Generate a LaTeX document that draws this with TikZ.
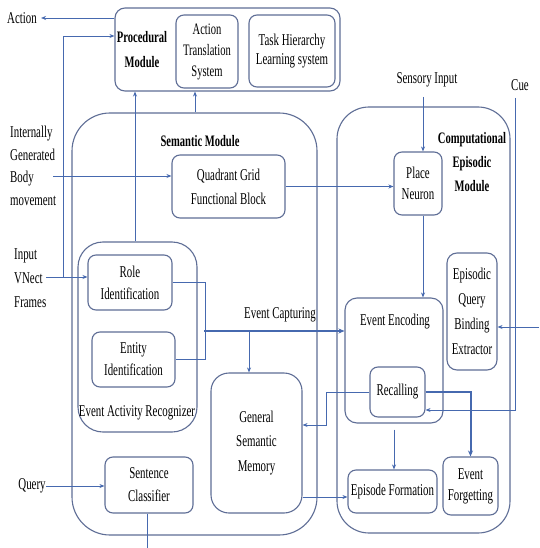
\documentclass[tikz,border=0pt]{standalone}
\usepackage{fontspec}
\setmainfont{Liberation Serif}[FakeStretch=0.66]
\usetikzlibrary{arrows.meta}
\definecolor{boxc}{RGB}{95,110,150}
\definecolor{linec}{RGB}{70,105,175}
\begin{document}
\begin{tikzpicture}[x=1pt,y=-1pt,
  font=\fontsize{16.5}{21}\selectfont,
  box/.style={draw=boxc,line width=1.1pt,rounded corners=8pt,inner sep=0pt,align=center},
  txt/.style={inner sep=0pt,align=center},
  conn/.style={draw=linec,line width=0.9pt},
  arr/.style={conn,-{Stealth[length=5pt,width=4pt]}},
  heavyarr/.style={draw=linec,line width=2pt,-{Stealth[length=6pt,width=5pt]}},
  bold/.style={font=\bfseries\fontsize{16}{#1}\selectfont}]
\fill[white] (0,0) rectangle (539,548);
\useasboundingbox (0,0) rectangle (539,548);

% Procedural module
\node[box,minimum width=225pt,minimum height=83pt,rounded corners=10pt] (proc) at (227.5,49.5) {};
\node[txt,bold=25] (procl) at (142,50) {Procedural\\Module};
\node[box,minimum width=62pt,minimum height=73pt,font=\fontsize{16}{21}\selectfont] (ats) at (207,51.5) {Action\\Translation\\System};
\node[box,minimum width=86pt,minimum height=72pt,font=\fontsize{16.5}{19}\selectfont] (thl) at (292,51) {Task Hierarchy\\Learning system};

% Semantic module
\node[box,minimum width=245pt,minimum height=422pt,rounded corners=38pt] (sem) at (194.5,324) {};
\node[txt,bold=21] (seml) at (200,141) {Semantic Module};
\node[box,minimum width=113pt,minimum height=63pt,font=\fontsize{16.5}{24}\selectfont] (qg) at (228.5,186.5) {Quadrant Grid\\Functional Block};
\node[box,minimum width=119pt,minimum height=190pt,rounded corners=25pt] (ear) at (137.5,337) {};
\node[box,minimum width=84pt,minimum height=55pt,font=\fontsize{16.5}{22}\selectfont] (role) at (130,282.5) {Role\\Identification};
\node[box,minimum width=83pt,minimum height=55pt,font=\fontsize{16.5}{22}\selectfont] (entity) at (133.5,359.5) {Entity\\Identification};
\node[txt] (earl) at (137,413) {Event Activity Recognizer};
\node[box,minimum width=91pt,minimum height=140pt,rounded corners=18pt,font=\fontsize{16.5}{24.5}\selectfont] (gsm) at (256.5,443) {General\\Semantic\\Memory};
\node[box,minimum width=88pt,minimum height=56pt,font=\fontsize{16.5}{23}\selectfont] (sc) at (149,485) {Sentence\\Classifier};

% Computational episodic module
\node[box,minimum width=173pt,minimum height=426pt,rounded corners=32pt] (cem) at (423.5,320) {};
\node[txt,bold=24] (ceml) at (472,162) {Computational\\Episodic\\Module};
\node[box,minimum width=48pt,minimum height=63pt,font=\fontsize{16.5}{21}\selectfont] (pn) at (418,183.5) {Place\\Neuron};
\node[box,minimum width=98pt,minimum height=125pt,rounded corners=12pt] (ee) at (394,360.5) {};
\node[txt] (eel) at (395,322) {Event Encoding};
\node[box,minimum width=55pt,minimum height=50pt] (rec) at (397.5,392) {Recalling};
\node[box,minimum width=50pt,minimum height=117pt,rounded corners=10pt,font=\fontsize{16.5}{25}\selectfont] (eqbe) at (472,311.5) {Episodic\\Query\\Binding\\Extractor};
\node[box,minimum width=89pt,minimum height=43pt] (ef) at (392.5,491.5) {Episode Formation};
\node[box,minimum width=55pt,minimum height=58pt,font=\fontsize{16.5}{21}\selectfont] (fg) at (470.5,486) {Event\\Forgetting};

% outside labels
\node[txt] (action) at (22,18) {Action};
\node[txt,anchor=west,align=left,font=\fontsize{16.5}{22.7}\selectfont] (body) at (10,166) {Internally\\Generated\\Body\\movement};
\node[txt,anchor=west,align=left,font=\fontsize{16.5}{24}\selectfont] (vnect) at (14,278) {Input\\VNect\\Frames};
\node[txt] (sens) at (427,80) {Sensory Input};
\node[txt] (cue) at (520,85) {Cue};
\node[txt] (ecl) at (280,315) {Event Capturing};
\node[txt] (query) at (32,486) {Query};

% connectors
\coordinate (j1) at (63,277);
\draw[arr] (vnect.east |- j1) -- (role.west |- j1);
\draw[arr] (j1) |- ([yshift=13.5pt]proc.west);
\draw[arr,shorten >=4pt] (proc.west |- action) -- (action.east);
\coordinate (bodyS) at (53,176);
\draw[arr] (bodyS) -- (bodyS -| qg.west);
\draw[arr] (qg.east) -- (qg.east -| pn.west);
\coordinate (sensS) at (423,97);
\draw[arr] (sensS) -- (sensS |- pn.north);
\draw[arr] (sensS |- pn.south) -- (sensS |- ee.north);
\coordinate (cueS) at (515,98);
\coordinate (cueB) at (515,410);
\draw[arr] (cueS) -- (cueB) -- (cueB -| rec.east);
\coordinate (rin) at (539,327);
\draw[arr] (rin) -- (rin -| eqbe.east);
\draw[conn] (role.east) -- ++(33,0) |- (entity.east);
\coordinate (ecS) at (204,331);
\draw[heavyarr] (ecS) -- (ecS -| ee.west);
\coordinate (ecD) at (249,331);
\draw[arr] (ecD) -- (ecD |- gsm.north);
\draw[arr] (rec.west) -- ++(-43,0) |- ([yshift=18pt]gsm.east);
\draw[heavyarr] (rec.east) -| (fg.north);
\draw[arr,shorten <=6pt] (ee.south) -- (ee.south |- ef.north);
\draw[arr] ([yshift=-5.5pt]ef.west -| gsm.east) -- ([yshift=-5.5pt]ef.west);
\draw[arr] (query.east) -- (query.east -| sc.west);
\draw[arr] ([xshift=-2.5pt]ear.north) -- ([xshift=-2.5pt]ear.north |- proc.south);
\draw[arr] ([xshift=-12pt]ats.south |- sem.north) -- ([xshift=-12pt]ats.south |- proc.south);
\coordinate (bot) at (147,548);
\draw[conn] (sc.south -| bot) -- (bot);
\end{tikzpicture}
\end{document}
